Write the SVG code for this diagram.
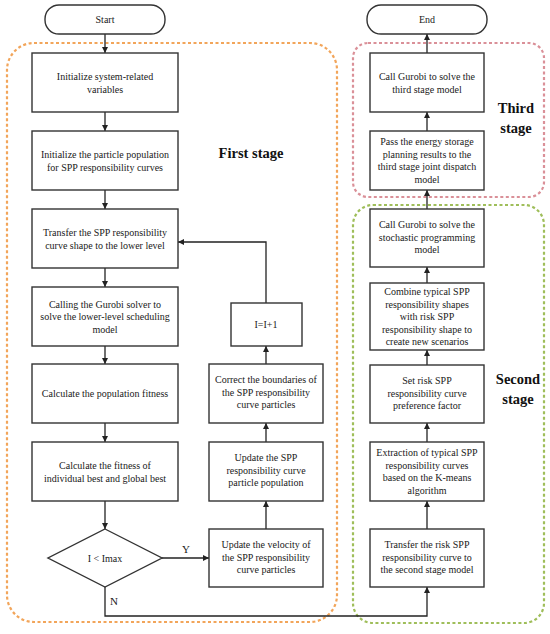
<svg xmlns="http://www.w3.org/2000/svg" width="550" height="634" viewBox="0 0 550 634">
<defs>
<marker id="ah" viewBox="0 0 10 10" refX="10" refY="5" markerWidth="6" markerHeight="6" orient="auto" markerUnits="userSpaceOnUse">
<path d="M0,0 L10,5 L0,10 z" fill="#222"/>
</marker>
<style>
.box{fill:#fff;stroke:#333;stroke-width:1.4}
.t{font-family:"Liberation Serif","Times New Roman",serif;font-size:10px;fill:#1a1a1a;text-anchor:middle}
.lab{font-family:"Liberation Serif","Times New Roman",serif;font-size:14.5px;font-weight:bold;fill:#111;text-anchor:middle}
.c{fill:none;stroke:#222;stroke-width:1.3;marker-end:url(#ah)}
.dash{fill:none;stroke-width:2.2;stroke-dasharray:3 2.5}
</style>
</defs>
<rect width="550" height="634" fill="#fff"/>
<g id="stages">
<rect class="dash" x="7" y="43" width="330" height="579" rx="27" stroke="#f2a55a"/>
<rect class="dash" x="353" y="43" width="191" height="154" rx="15" stroke="#da9098"/>
<rect class="dash" x="353" y="205" width="191" height="418" rx="20" stroke="#9fbe5a"/>
<text class="lab" x="251" y="158">First stage</text>
<text class="lab" x="516" y="113">Third</text>
<text class="lab" x="516" y="133">stage</text>
<text class="lab" x="518" y="384">Second</text>
<text class="lab" x="518" y="404">stage</text>
</g>
<g id="connectors">
<path class="c" d="M105,34 V53"/>
<path class="c" d="M105,112 V131"/>
<path class="c" d="M105,190 V209"/>
<path class="c" d="M105,268 V287"/>
<path class="c" d="M105,346 V364"/>
<path class="c" d="M105,423 V442"/>
<path class="c" d="M105,501 V529"/>
<path class="c" d="M162,558 H209"/>
<text class="t" x="186" y="553" style="font-size:11px">Y</text>
<path class="c" d="M266,529 V501"/>
<path class="c" d="M266,442 V423"/>
<path class="c" d="M266,364 V346"/>
<path class="c" d="M266,303 V242 H178"/>
<path class="c" d="M105,587 V616 H427 V587"/>
<text class="t" x="114" y="605" style="font-size:11px">N</text>
<path class="c" d="M427,529 V501"/>
<path class="c" d="M427,442 V423"/>
<path class="c" d="M427,365 V350"/>
<path class="c" d="M427,283 V267"/>
<path class="c" d="M427,209 V190"/>
<path class="c" d="M427,131 V112"/>
<path class="c" d="M427,53 V34"/>
</g>
<g id="start">
<rect class="box" x="45" y="5" width="120" height="29" rx="14"/>
<text class="t" x="105" y="23">Start</text>
</g>
<g id="end">
<rect class="box" x="367" y="5" width="120" height="29" rx="14"/>
<text class="t" x="427" y="23">End</text>
</g>
<g id="init-vars">
<rect class="box" x="32" y="53" width="146" height="59"/>
<text class="t" x="105" y="80">Initialize system-related</text>
<text class="t" x="105" y="92.5">variables</text>
</g>
<g id="init-pop">
<rect class="box" x="32" y="131" width="146" height="59"/>
<text class="t" x="105" y="158">Initialize the particle population</text>
<text class="t" x="105" y="170.5">for SPP responsibility curves</text>
</g>
<g id="transfer-shape">
<rect class="box" x="32" y="209" width="146" height="59"/>
<text class="t" x="105" y="236">Transfer the SPP responsibility</text>
<text class="t" x="105" y="248.5">curve shape to the lower level</text>
</g>
<g id="call-solver">
<rect class="box" x="32" y="287" width="146" height="59"/>
<text class="t" x="105" y="307.5">Calling the Gurobi solver to</text>
<text class="t" x="105" y="320">solve the lower-level scheduling</text>
<text class="t" x="105" y="332.5">model</text>
</g>
<g id="pop-fitness">
<rect class="box" x="32" y="364" width="146" height="59"/>
<text class="t" x="105" y="397">Calculate the population fitness</text>
</g>
<g id="best-fitness">
<rect class="box" x="32" y="442" width="146" height="59"/>
<text class="t" x="105" y="469">Calculate the fitness of</text>
<text class="t" x="105" y="481.5">individual best and global best</text>
</g>
<g id="decision">
<polygon class="box" points="105,529 162,558 105,587 48,558"/>
<text class="t" x="105" y="561.5">I &lt; Imax</text>
</g>
<g id="update-velocity">
<rect class="box" x="209" y="529" width="114" height="58"/>
<text class="t" x="266" y="548">Update the velocity of</text>
<text class="t" x="266" y="560.5">the SPP responsibility</text>
<text class="t" x="266" y="573">curve particles</text>
</g>
<g id="update-pop">
<rect class="box" x="209" y="442" width="114" height="59"/>
<text class="t" x="266" y="461">Update the SPP</text>
<text class="t" x="266" y="473.5">responsibility curve</text>
<text class="t" x="266" y="486">particle population</text>
</g>
<g id="correct-bounds">
<rect class="box" x="209" y="364" width="114" height="59"/>
<text class="t" x="266" y="383">Correct the boundaries of</text>
<text class="t" x="266" y="395.5">the SPP responsibility</text>
<text class="t" x="266" y="408">curve particles</text>
</g>
<g id="increment">
<rect class="box" x="231" y="303" width="71" height="43"/>
<text class="t" x="266" y="328">I=I+1</text>
</g>
<g id="call-third">
<rect class="box" x="370" y="53" width="114" height="59"/>
<text class="t" x="427" y="80">Call Gurobi to solve the</text>
<text class="t" x="427" y="92.5">third stage model</text>
</g>
<g id="pass-results">
<rect class="box" x="370" y="131" width="114" height="59"/>
<text class="t" x="427" y="145">Pass the energy storage</text>
<text class="t" x="427" y="157.5">planning results to the</text>
<text class="t" x="427" y="170">third stage joint dispatch</text>
<text class="t" x="427" y="182.5">model</text>
</g>
<g id="call-stochastic">
<rect class="box" x="370" y="209" width="114" height="58"/>
<text class="t" x="427" y="228">Call Gurobi to solve the</text>
<text class="t" x="427" y="240.5">stochastic programming</text>
<text class="t" x="427" y="253">model</text>
</g>
<g id="combine">
<rect class="box" x="370" y="283" width="114" height="67"/>
<text class="t" x="427" y="295">Combine typical SPP</text>
<text class="t" x="427" y="307.5">responsibility shapes</text>
<text class="t" x="427" y="320">with risk SPP</text>
<text class="t" x="427" y="332.5">responsibility shape to</text>
<text class="t" x="427" y="345">create new scenarios</text>
</g>
<g id="set-risk">
<rect class="box" x="370" y="365" width="114" height="58"/>
<text class="t" x="427" y="384">Set risk SPP</text>
<text class="t" x="427" y="396.5">responsibility curve</text>
<text class="t" x="427" y="409">preference factor</text>
</g>
<g id="extraction">
<rect class="box" x="370" y="442" width="114" height="59"/>
<text class="t" x="427" y="456">Extraction of typical SPP</text>
<text class="t" x="427" y="468.5">responsibility curves</text>
<text class="t" x="427" y="481">based on the K-means</text>
<text class="t" x="427" y="493.5">algorithm</text>
</g>
<g id="transfer-risk">
<rect class="box" x="370" y="529" width="114" height="58"/>
<text class="t" x="427" y="548">Transfer the risk SPP</text>
<text class="t" x="427" y="560.5">responsibility curve to</text>
<text class="t" x="427" y="573">the second stage model</text>
</g>
</svg>
